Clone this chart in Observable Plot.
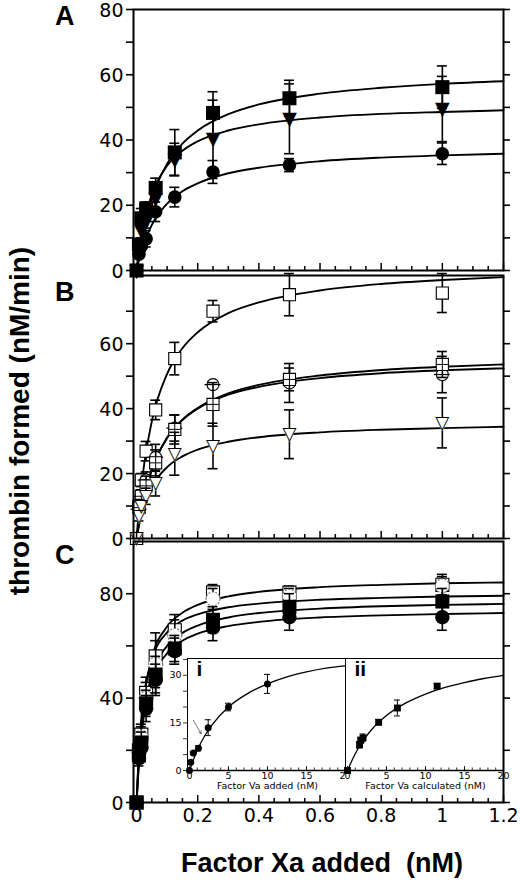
<!DOCTYPE html>
<html>
<head>
<meta charset="utf-8">
<script src="https://cdn.jsdelivr.net/npm/d3@7"></script>
<script src="https://cdn.jsdelivr.net/npm/@observablehq/plot@0.6"></script>
<style>
  body { margin: 0; background: #fff; }
  #fig { position: relative; width: 520px; height: 885px; overflow: hidden; background: #fff; }
  #fig > div { position: absolute; }
  .big { font: bold 26px "Liberation Sans", Arial, sans-serif; line-height: 1; white-space: pre; }
</style>
</head>
<body>
<div id="fig"></div>
<script>
// Factor Xa doses (nM) shared by all three panels
const doses = [0, 0.0078, 0.0156, 0.03125, 0.0625, 0.125, 0.25, 0.5, 1];
const fitX = [0, 0.01, 0.02, 0.05, 0.1, 0.15, 0.2, 0.3, 0.4, 0.6, 0.8, 1.0, 1.2];

// panel A
const aSquare = [0, 8, 16, 19, 25.3, 36.2, 48.3, 52.8, 56.2];
const aSquareErr = [0, 1, 3, 2, 3, 7, 6.5, 5.5, 6.5];
const aTriangle = [0, 6, 12, 15, 22, 34, 40.2, 46.5, 49.5];
const aTriangleErr = [0, 1, 2, 2, 3, 5, 12, 10.7, 10];
const aCircle = [0, 5, 7.5, 9.7, 18, 22.5, 30.2, 32.3, 35.8];
const aCircleErr = [0, 1, 1.5, 2.5, 3, 3, 3.5, 2, 3.3];
const aSquareFit = [0, 6.2, 11.3, 22.1, 32.7, 38.9, 42.9, 47.9, 50.9, 54.2, 56.0, 57.2, 58.0];
const aTriangleFit = [0, 7.3, 12.8, 23.3, 32.1, 36.7, 39.6, 42.9, 44.8, 46.9, 48.0, 48.6, 49.1];
const aCircleFit = [0, 4.0, 7.2, 14.0, 20.5, 24.3, 26.7, 29.8, 31.5, 33.5, 34.6, 35.3, 35.8];

// panel B
const bSquare = [0, 10, 18, 26.9, 39.6, 55.4, 70, 75.1, 75.6];
const bSquareErr = [0, 2, 2, 3, 3, 5, 3.3, 6.5, 6];
const bGrid = [0, 9.5, 13, 16.2, 23.3, 33.6, 41.3, 49.0, 53.6];
const bGridErr = [0, 1.5, 2, 3, 4, 4.5, 6.7, 3.5, 4];
const bCircle = [0, 9, 13, 18, 25, 34, 47.4, 47.9, 50.5];
const bCircleErr = [0, 1.5, 2, 2.5, 4, 4, 1, 6, 5.6];
const bTriangle = [0, 6.9, 10, 13, 16.9, 26.1, 28.5, 32.1, 35.6];
const bTriangleErr = [0, 1.5, 2, 2.5, 3.8, 6.6, 7, 7.5, 7.7];
const bSquareFit = [0, 10.9, 19.4, 36.1, 50.7, 58.6, 63.5, 69.4, 72.7, 76.4, 78.4, 79.6, 80.5];
const bGridFit = [0, 6.0, 10.9, 21.2, 31.0, 36.6, 40.2, 44.7, 47.3, 50.2, 51.9, 52.9, 53.6];
const bCircleFit = [0, 6.0, 11.0, 21.3, 31.0, 36.5, 40.0, 44.3, 46.7, 49.4, 50.9, 51.8, 52.4];
const bTriangleFit = [0, 4.9, 8.6, 15.8, 22.0, 25.3, 27.4, 29.8, 31.2, 32.7, 33.5, 34.0, 34.4];

// panel C
const cOpenSquare = [0, 20, 26, 42, 56, 66, 80.5, 80.4, 83.4];
const cOpenSquareErr = [0, 3, 4, 6, 9, 6, 3, 2.5, 4];
const cOpenCircle = [0, 19, 25, 40, 53, 64, 78, 79, 83];
const cOpenCircleErr = [0, 3, 4, 6, 9, 6, 4, 3, 3.5];
const cSquare = [0, 18, 23, 38, 49, 59, 70, 75, 77];
const cSquareErr = [0, 3, 4, 5, 7, 5, 5, 5, 5];
const cCircle = [0, 17, 21, 36, 47, 58, 67, 71, 71];
const cCircleErr = [0, 3, 4, 5, 6, 5, 5, 5, 5];
const cFit1 = [0, 22.7, 36.0, 55.3, 67.4, 72.7, 75.7, 79.0, 80.7, 82.5, 83.4, 84.0, 84.3];
const cFit2 = [0, 23.8, 36.7, 54.6, 65.2, 69.7, 72.1, 74.8, 76.2, 77.7, 78.4, 78.9, 79.2];
const cFit3 = [0, 19.5, 31.2, 48.8, 60.0, 65.0, 67.8, 70.9, 72.6, 74.3, 75.2, 75.7, 76.1];
const cFit4 = [0, 18.6, 29.8, 46.5, 57.2, 62.0, 64.7, 67.6, 69.2, 70.9, 71.7, 72.2, 72.6];

// inset i / ii
const vaAdded = [0, 0.17, 0.5, 1.15, 2.4, 5, 10];
const rateAdded = [0, 2.6, 5.5, 7, 13.5, 20, 27.3];
const rateAddedErr = [0, 0.5, 0.5, 0.8, 2.5, 1.2, 3];
const vaCalc = [0, 1.55, 1.7, 2.0, 4.0, 6.4, 11.5];
const rateCalc = [0, 8.1, 9.5, 10.3, 15.2, 19.7, 26.6];
const rateCalcErr = [0, 1, 1, 1.2, 0.8, 2.5, 0.8];
const insetFitX = [0, 1, 2, 3, 5, 7.5, 10, 12.5, 15, 17.5, 20];
const addedFit = [0, 6.4, 11.1, 14.7, 20.0, 24.3, 27.3, 29.5, 31.1, 32.3, 33.0];
const calcFit = [0, 5.3, 9.4, 12.6, 17.3, 21.3, 24.1, 26.2, 27.7, 29.0, 30.0];
const insetArrow = [{x1: 0.5, y1: 15.8, x2: 1.5, y2: 11.6}];

// ticks
const xMajor = [0, 0.2, 0.4, 0.6, 0.8, 1, 1.2];
const xMajorLabels = ["0", "0.2", "0.4", "0.6", "0.8", "1", "1.2"];
const xMinor = [0.05, 0.1, 0.15, 0.25, 0.3, 0.35, 0.45, 0.5, 0.55, 0.65, 0.7, 0.75, 0.85, 0.9, 0.95, 1.05, 1.1, 1.15];
const insetXLabels = [0, 5, 10, 15, 20];
const insetXMinor = d3.range(1, 20);
const insetYLabels = [0, 15, 30];
const insetYTicks = [0, 5, 10, 15, 20, 25, 30, 35];

const fig = document.getElementById("fig");
const FONT = "DejaVu Sans, sans-serif";
const X0 = -0.01, X1 = 1.2, LEFT = 133, RIGHT = 503;
const kx = (RIGHT - LEFT) / (X1 - X0);

function place(node, left, top) {
  const d = document.createElement("div");
  d.style.left = left + "px";
  d.style.top = top + "px";
  d.appendChild(node);
  fig.appendChild(d);
  return d;
}

function rows(xs, ys, es) {
  return xs.map((x, i) => ({x, y: ys[i], e: es ? es[i] : 0}));
}

function bars(pts, capPx, kxx, w = 1.6) {
  const b = pts.filter(d => d.e > 0);
  const c = capPx / kxx;
  return [
    Plot.ruleX(b, {x: "x", y1: d => d.y - d.e, y2: d => d.y + d.e, strokeWidth: w}),
    Plot.ruleY(b, {y: d => d.y - d.e, x1: d => d.x - c, x2: d => d.x + c, strokeWidth: w}),
    Plot.ruleY(b, {y: d => d.y + d.e, x1: d => d.x - c, x2: d => d.x + c, strokeWidth: w})
  ];
}

function markers(pts, kind, r, ky) {
  const o = {x: "x", y: "y"};
  switch (kind) {
    case "square": return [Plot.dot(pts, {...o, symbol: "square", r: r * 1.1, fill: "black"})];
    case "circle": return [Plot.dot(pts, {...o, symbol: "circle", r, fill: "black"})];
    case "down": return [Plot.text(pts, {...o, text: () => "\u25BC", fontSize: r * 2.8, fontFamily: FONT, fill: "black"})];
    case "openDown": return [
      Plot.text(pts, {...o, text: () => "\u25BC", fontSize: r * 2.8, fontFamily: FONT, fill: "white"}),
      Plot.text(pts, {...o, text: () => "\u25BD", fontSize: r * 2.8, fontFamily: FONT, fill: "black"})
    ];
    case "openSquare": return [Plot.dot(pts, {...o, symbol: "square", r: r * 1.05, fill: "white", stroke: "black", strokeWidth: 1.1})];
    case "gridSquare": {
      const h = r * 0.93;
      return [
        Plot.dot(pts, {...o, symbol: "square", r: r * 1.05, fill: "white", stroke: "black", strokeWidth: 1.1}),
        Plot.ruleX(pts, {x: "x", y1: d => d.y - h / ky, y2: d => d.y + h / ky, strokeWidth: 1}),
        Plot.ruleY(pts, {y: "y", x1: d => d.x - h / kx, x2: d => d.x + h / kx, strokeWidth: 1})
      ];
    }
    case "barCircle": return [
      Plot.dot(pts, {...o, symbol: "circle", r, fill: "white", stroke: "black", strokeWidth: 1.1}),
      Plot.ruleY(pts, {y: "y", x1: d => d.x - (r + 2) / kx, x2: d => d.x + (r + 2) / kx, strokeWidth: 1.2})
    ];
    case "greyCircle": return [Plot.dot(pts, {...o, symbol: "circle", r, fill: "white", stroke: "#777", strokeWidth: 1.2, strokeDasharray: "2,1.5"})];
  }
}

function panel({top, bottom, yMax, yMajor, yMinor, series, xLabels, mt = 10}) {
  const ky = (bottom - top) / yMax;
  const mb = xLabels ? 36 : 10;
  const yAll = [...yMajor, ...yMinor];
  const marks = [];
  for (const s of series) marks.push(Plot.line(rows(fitX, s.fit), {x: "x", y: "y", curve: "monotone-x", strokeWidth: 1.9}));
  for (const s of series) {
    const pts = rows(doses, s.y, s.e);
    marks.push(...bars(pts, 5, kx), ...markers(pts, s.kind, s.r, ky));
  }
  marks.push(
    Plot.frame({stroke: "black", strokeWidth: 2}),
    Plot.ruleY(yAll, {y: d => d, x1: X0 - 7 / kx, x2: X0, strokeWidth: 1.6}),
    Plot.ruleY(yAll, {y: d => d, x1: X1, x2: X1 + 7 / kx, strokeWidth: 1.6}),
    Plot.text(yMajor, {x: X0, y: d => d, text: d => String(d), dx: -10, dy: 1, textAnchor: "end", fontSize: 19, fontFamily: FONT}),
    Plot.ruleX(xMinor, {x: d => d, y1: 0, y2: 4 / ky, strokeWidth: 1.5}),
    Plot.ruleX(xMajor, {x: d => d, y1: 0, y2: 7 / ky, strokeWidth: 1.5})
  );
  if (xLabels) marks.push(Plot.text(xMajor, {x: d => d, y: 0, text: (d, i) => xLabels[i], lineAnchor: "top", dy: 6, fontSize: 19, fontFamily: FONT}));
  const svg = Plot.plot({
    width: 520, height: bottom - top + mt + mb,
    marginTop: mt, marginBottom: mb, marginLeft: LEFT, marginRight: 520 - RIGHT,
    x: {domain: [X0, X1], axis: null},
    y: {domain: [0, yMax], axis: null},
    style: {background: "transparent", overflow: "visible"},
    marks
  });
  place(svg, 0, top - mt);
}

function inset({left, width, plotLeft, xs, ys, es, fit, kind, name, title, yLabels, arrow}) {
  const top = 650, mt = 8, mb = 25, plotH = 112, yMax = 35.3;
  const xDom = [-0.25, 20];
  const plotW = width - (plotLeft - left);
  const kxi = plotW / (xDom[1] - xDom[0]);
  const kyi = plotH / yMax;
  const pts = rows(xs, ys, es);
  const marks = [
    Plot.frame({stroke: "black", strokeWidth: 1}),
    Plot.ruleY([0], {x1: xDom[0], x2: 20, strokeWidth: 1.6}),
    Plot.ruleX(insetXMinor, {x: d => d, y1: 0, y2: 2.5 / kyi, strokeWidth: 0.8}),
    Plot.ruleX(insetXLabels, {x: d => d, y1: 0, y2: 4 / kyi, strokeWidth: 0.8}),
    Plot.text(insetXLabels, {x: d => d, y: 0, text: d => String(d), lineAnchor: "top", dy: 2, fontSize: 9.5, fontFamily: FONT}),
    Plot.text([title], {x: 10, y: 0, text: d => d, lineAnchor: "top", dy: 12, fontSize: 9.5, fontFamily: FONT}),
    Plot.text([name], {frameAnchor: "top-left", text: d => d, dx: 9, dy: 3, fontSize: 21, fontWeight: "bold", fontFamily: "Liberation Sans, Arial, sans-serif", lineAnchor: "top"}),
    Plot.line(rows(insetFitX, fit), {x: "x", y: "y", curve: "monotone-x", strokeWidth: 1.3}),
    ...bars(pts, 3, kxi, 1),
    Plot.dot(pts, {x: "x", y: "y", symbol: kind, r: kind === "square" ? 3.9 : 3.5, fill: "black"})
  ];
  if (yLabels) marks.push(
    Plot.ruleY(insetYTicks, {y: d => d, x1: xDom[0] - 4 / kxi, x2: xDom[0], strokeWidth: 0.8}),
    Plot.text(yLabels, {x: xDom[0], y: d => d, text: d => String(d), dx: -6, textAnchor: "end", fontSize: 9.5, fontFamily: FONT})
  );
  if (arrow) marks.push(Plot.arrow(arrow, {x1: "x1", y1: "y1", x2: "x2", y2: "y2", stroke: "#555", strokeWidth: 0.8, headLength: 5}));
  const svg = Plot.plot({
    width, height: plotH + mt + mb,
    marginTop: mt, marginBottom: mb, marginLeft: plotLeft - left, marginRight: 0,
    x: {domain: xDom, axis: null},
    y: {domain: [0, yMax], axis: null},
    style: {background: "white", overflow: "visible"},
    marks
  });
  place(svg, left, top);
}

panel({
  top: 9, bottom: 270, yMax: 80, yMajor: [0, 20, 40, 60, 80], yMinor: [10, 30, 50, 70], mt: 9,
  series: [
    {y: aSquare, e: aSquareErr, fit: aSquareFit, kind: "square", r: 7.2},
    {y: aTriangle, e: aTriangleErr, fit: aTriangleFit, kind: "down", r: 6.8},
    {y: aCircle, e: aCircleErr, fit: aCircleFit, kind: "circle", r: 6.8}
  ]
});

panel({
  top: 275, bottom: 538, yMax: 81, yMajor: [0, 20, 40, 60], yMinor: [10, 30, 50, 70],
  series: [
    {y: bSquare, e: bSquareErr, fit: bSquareFit, kind: "openSquare", r: 6.5},
    {y: bCircle, e: bCircleErr, fit: bCircleFit, kind: "barCircle", r: 6},
    {y: bGrid, e: bGridErr, fit: bGridFit, kind: "gridSquare", r: 6.5},
    {y: bTriangle, e: bTriangleErr, fit: bTriangleFit, kind: "openDown", r: 6.5}
  ]
});

inset({left: 160, width: 185, plotLeft: 187, xs: vaAdded, ys: rateAdded, es: rateAddedErr, fit: addedFit,
  kind: "circle", name: "i", title: "Factor Va added (nM)", yLabels: insetYLabels, arrow: insetArrow});
inset({left: 345, width: 158, plotLeft: 345, xs: vaCalc, ys: rateCalc, es: rateCalcErr, fit: calcFit,
  kind: "square", name: "ii", title: "Factor Va calculated (nM)"});

panel({
  top: 541, bottom: 802, yMax: 100, yMajor: [0, 40, 80], yMinor: [20, 60], xLabels: xMajorLabels,
  series: [
    {y: cOpenSquare, e: cOpenSquareErr, fit: cFit1, kind: "openSquare", r: 7},
    {y: cOpenCircle, e: cOpenCircleErr, fit: cFit2, kind: "greyCircle", r: 7},
    {y: cSquare, e: cSquareErr, fit: cFit3, kind: "square", r: 7.2},
    {y: cCircle, e: cCircleErr, fit: cFit4, kind: "circle", r: 7.2}
  ]
});

// panel letters and axis titles
function label(text, left, top, extra = "") {
  const d = document.createElement("div");
  d.className = "big";
  d.textContent = text;
  d.style.cssText += `left:${left}px;top:${top}px;` + extra;
  fig.appendChild(d);
}
label("A", 55, 3, "font-size:27px;");
label("B", 55, 279, "font-size:27px;");
label("C", 55, 542, "font-size:27px;");
label("Factor Xa added  (nM)", 72, 850, "width:500px;text-align:center;font-size:27px;");
label("thrombin formed (nM/min)", -230, 407, "width:500px;text-align:center;font-size:28px;transform:rotate(-90deg);");
</script>
</body>
</html>
